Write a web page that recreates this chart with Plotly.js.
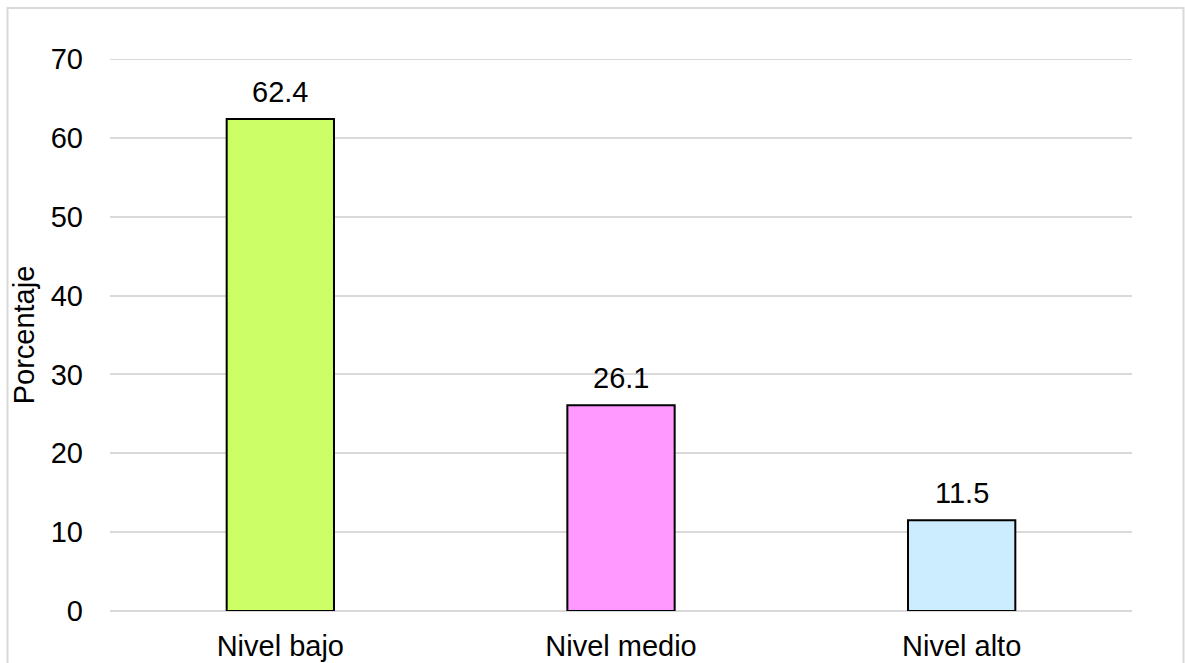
<!DOCTYPE html>
<html>
<head>
<meta charset="utf-8">
<script src="https://cdn.plot.ly/plotly-3.0.1.min.js"></script>
<style>
  html, body { margin: 0; padding: 0; background: #ffffff; }
  #chart { width: 1185px; height: 663px; }
</style>
</head>
<body>
<div id="chart"></div>
<script>
// Distribución por nivel (porcentaje)
const categories = ["Nivel bajo", "Nivel medio", "Nivel alto"];
const percentages = [62.4, 26.1, 11.5];
const barColors = ["#CCFF66", "#FF99FF", "#CCECFF"];
const yTickValues = [0, 10, 20, 30, 40, 50, 60, 70];

const FONT = "Liberation Sans, Arial, sans-serif";
const FONT_SIZE = 29;
const GRID = "#d9d9d9";

const trace = {
  type: "bar",
  x: categories,
  y: percentages,
  width: 0.315,
  marker: {
    color: barColors,
    line: { color: "#000000", width: 2 }
  },
  hoverinfo: "x+y"
};

// Value labels above each bar, taken from the same values
const valueLabels = categories.map((c, i) => ({
  x: c,
  y: percentages[i],
  xref: "x",
  yref: "y",
  text: percentages[i].toFixed(1),
  showarrow: false,
  yanchor: "bottom",
  yshift: 9,
  font: { family: FONT, size: FONT_SIZE, color: "#000000" }
}));

const yMax = yTickValues[yTickValues.length - 1];

const layout = {
  width: 1185,
  height: 663,
  margin: { l: 110, r: 53, t: 59, b: 52 },
  paper_bgcolor: "#ffffff",
  plot_bgcolor: "#ffffff",
  showlegend: false,
  font: { family: FONT, size: FONT_SIZE, color: "#000000" },
  xaxis: {
    type: "category",
    showgrid: false,
    showline: false,
    ticks: "",
    ticklabelstandoff: 15,
    tickfont: { family: FONT, size: FONT_SIZE, color: "#000000" }
  },
  yaxis: {
    range: [0, yMax],
    tickvals: yTickValues,
    ticktext: yTickValues.map(String),
    showgrid: true,
    gridcolor: GRID,
    gridwidth: 2,
    zeroline: true,
    zerolinecolor: GRID,
    zerolinewidth: 2,
    showline: false,
    ticks: "",
    ticklabelstandoff: 26,
    tickfont: { family: FONT, size: FONT_SIZE, color: "#000000" },
    title: {
      text: "Porcentaje",
      font: { family: FONT, size: FONT_SIZE, color: "#000000" },
      standoff: 7
    }
  },
  annotations: valueLabels,
  shapes: [
    {
      // top gridline at the end of the value range
      type: "line",
      xref: "paper",
      yref: "y",
      x0: 0,
      x1: 1,
      y0: yMax,
      y1: yMax,
      line: { color: GRID, width: 2 },
      layer: "below"
    },
    {
      // chart frame
      type: "rect",
      xref: "paper",
      yref: "paper",
      x0: -0.1003,
      x1: 1.0504,
      y0: -0.2,
      y1: 1.0924,
      line: { color: GRID, width: 2 },
      fillcolor: "rgba(0,0,0,0)",
      layer: "below"
    }
  ]
};

Plotly.newPlot("chart", [trace], layout, { displayModeBar: false, staticPlot: true });
</script>
</body>
</html>
